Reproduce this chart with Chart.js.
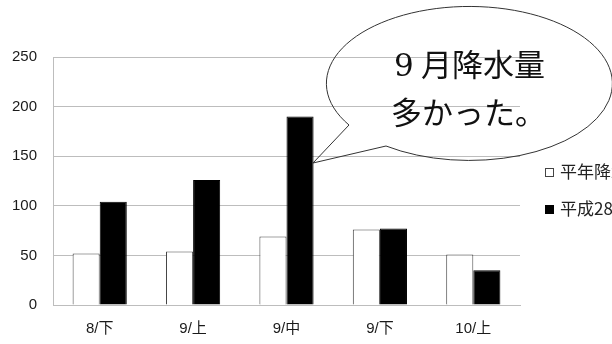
<!DOCTYPE html>
<html>
<head>
<meta charset="utf-8">
<script src="https://cdn.jsdelivr.net/npm/chart.js@4.4.1/dist/chart.umd.min.js"></script>
<style>
  html, body { margin: 0; padding: 0; background: #fff; overflow: hidden; }
  #wrap { position: relative; width: 612px; height: 344px; overflow: hidden; }
  #rain { position: absolute; left: 0; top: 0; }
  #legend { position: absolute; left: 545px; top: 161px; font: 17px "Noto Sans CJK JP", sans-serif; color: #222; white-space: nowrap; }
  #legend div { height: 37px; line-height: 20px; }
  #legend i { display: inline-block; width: 9px; height: 9px; margin-right: 6px; vertical-align: 1px; box-sizing: border-box; }
  #bubble { position: absolute; left: 0; top: 0; pointer-events: none; }
  #bubble text { font-family: "Noto Sans CJK JP", serif; font-size: 31px; fill: #111; }
  #bubble .num { font-family: "DejaVu Serif", serif; }
</style>
</head>
<body>
<div id="wrap">
  <canvas id="rain" width="612" height="344"></canvas>
  <div id="legend"></div>
  <svg id="bubble" width="612" height="344">
    <path d="M 349 125 A 143 77 0 1 1 386 146 L 313 163 Z" fill="none" stroke="#333" stroke-width="1"/>
    <text y="76"><tspan class="num" x="394">9</tspan><tspan x="421">月降水量</tspan></text>
    <text x="391" y="124">多かった。</text>
  </svg>
</div>
<script>
/* global Chart */
( function () {
	'use strict';

	const periods  = [ '8/下', '9/上', '9/中', '9/下', '10/上' ];
	const normal   = [ 52, 54, 69, 76, 51 ];
	const year2016 = [ 104, 126, 190, 77, 35 ];
	const yTicks   = [ 0, 50, 100, 150, 200, 250 ];

	const GRID = '#bdbdbd';
	const TEXT = '#1a1a1a';

	const chart = new Chart( document.getElementById( 'rain' ), {
		type: 'bar',
		data: {
			labels  : periods,
			datasets: [
				{
					label          : '平年降水量',
					data           : normal,
					backgroundColor: '#ffffff',
					borderColor    : '#444444',
					borderWidth    : 1,
				},
				{
					label          : '平成28年降水量',
					data           : year2016,
					backgroundColor: '#000000',
					borderColor    : '#000000',
					borderWidth    : 1,
				},
			],
		},
		options: {
			responsive: false,
			animation : false,
			layout    : { padding: { top: 57, right: 92, left: 0, bottom: 0 } },
			datasets  : { bar: { categoryPercentage: 0.58, barPercentage: 1 } },
			plugins   : { legend: { display: false }, tooltip: { enabled: false } },
			scales    : {
				x: {
					grid  : { display: false, drawTicks: false },
					border: { color: GRID },
					ticks : { color: TEXT, font: { family: 'Liberation Sans, Noto Sans CJK JP', size: 15 }, padding: 15 },
					afterFit: ( s ) => { s.height = 39; },
				},
				y: {
					min   : 0,
					max   : 250,
					afterBuildTicks: ( s ) => { s.ticks = yTicks.map( v => ( { value: v } ) ); },
					grid  : { color: GRID, drawTicks: false },
					border: { color: GRID },
					ticks : { color: TEXT, font: { family: 'Liberation Sans', size: 15 }, padding: 16 },
					afterFit: ( s ) => { s.width = 53; },
				},
			},
		},
	} );

	// legend built from the datasets, clipped at the right edge
	const $legend = document.getElementById( 'legend' );
	chart.data.datasets.forEach( ( ds ) => {
		const row = document.createElement( 'div' );
		const sw  = document.createElement( 'i' );
		sw.style.background = ds.backgroundColor;
		sw.style.border = '1px solid ' + ds.borderColor;
		row.appendChild( sw );
		row.appendChild( document.createTextNode( ds.label ) );
		$legend.appendChild( row );
	} );
} )();
</script>
</body>
</html>
